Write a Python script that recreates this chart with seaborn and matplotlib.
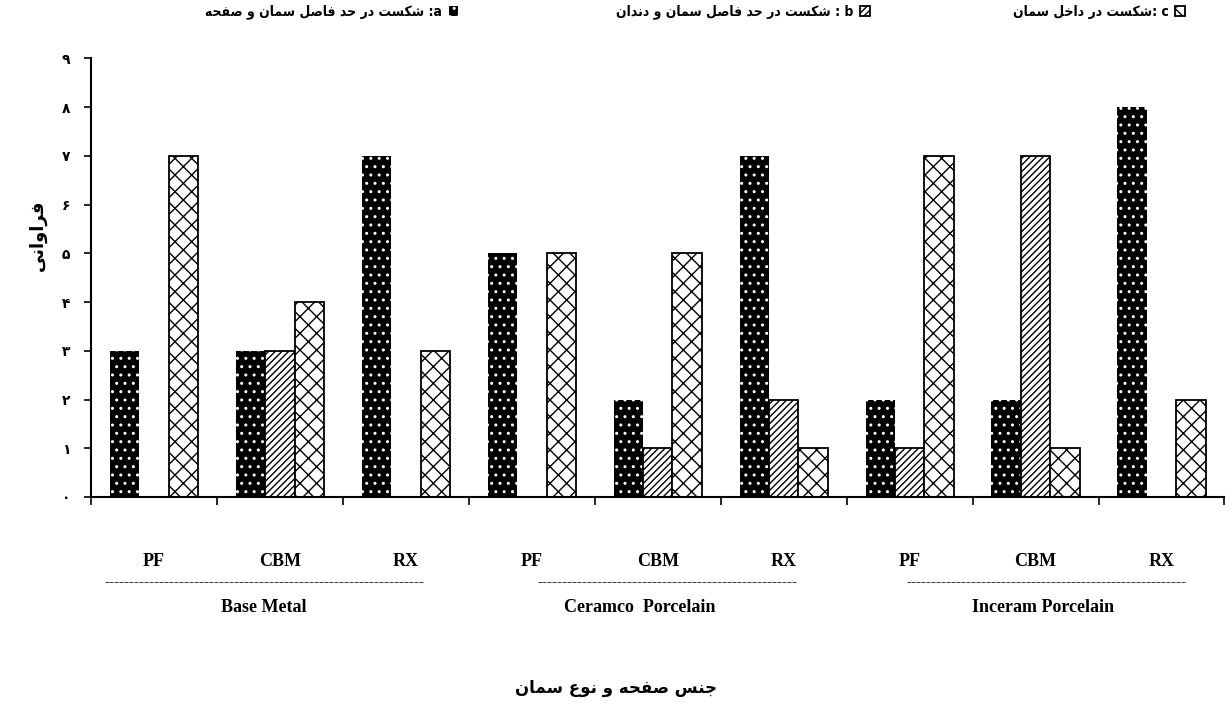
import matplotlib
matplotlib.use("Agg")
import matplotlib.pyplot as plt
import matplotlib.transforms as mtransforms
from matplotlib.patches import Patch
import seaborn as sns
import pandas as pd

# ---- data -------------------------------------------------------------
bases = ["Base Metal", "Ceramco  Porcelain", "Inceram Porcelain"]
cements = ["PF", "CBM", "RX"]
# failure type a: cement / base interface
fail_a = [3, 3, 7, 5, 2, 7, 2, 2, 8]
# failure type b: cement / tooth interface
fail_b = [0, 3, 0, 0, 1, 2, 1, 7, 0]
# failure type c: inside cement
fail_c = [7, 4, 3, 5, 5, 1, 7, 1, 2]
y_ticks = list(range(10))
y_tick_labels = ["۰", "۱", "۲", "۳", "۴", "۵", "۶", "۷", "۸", "۹"]

legend_a = "شکست در حد فاصل سمان و صفحه"
legend_b = "شکست در حد فاصل سمان و دندان"
legend_c = "شکست در داخل سمان"
y_title = "فراوانی"
x_title = "جنس صفحه و نوع سمان"

# group captions (x in category units) and dash-rule lengths
group_x = [0.87, 3.86, 7.06]
dash_x = [0.88, 4.08, 7.09]
dash_n = [64, 52, 56]
legend_right = [0.372, 0.706, 0.962]


# ---- minimal persian shaping (matplotlib has no bidi / shaping) --------
FORMS = {
    "ا": ("\uFE8D", "\uFE8E", None, None),
    "ت": ("\uFE95", "\uFE96", "\uFE97", "\uFE98"),
    "ج": ("\uFE9D", "\uFE9E", "\uFE9F", "\uFEA0"),
    "ح": ("\uFEA1", "\uFEA2", "\uFEA3", "\uFEA4"),
    "خ": ("\uFEA5", "\uFEA6", "\uFEA7", "\uFEA8"),
    "د": ("\uFEA9", "\uFEAA", None, None),
    "ر": ("\uFEAD", "\uFEAE", None, None),
    "س": ("\uFEB1", "\uFEB2", "\uFEB3", "\uFEB4"),
    "ش": ("\uFEB5", "\uFEB6", "\uFEB7", "\uFEB8"),
    "ص": ("\uFEB9", "\uFEBA", "\uFEBB", "\uFEBC"),
    "ع": ("\uFEC9", "\uFECA", "\uFECB", "\uFECC"),
    "ف": ("\uFED1", "\uFED2", "\uFED3", "\uFED4"),
    "ل": ("\uFEDD", "\uFEDE", "\uFEDF", "\uFEE0"),
    "م": ("\uFEE1", "\uFEE2", "\uFEE3", "\uFEE4"),
    "ن": ("\uFEE5", "\uFEE6", "\uFEE7", "\uFEE8"),
    "ه": ("\uFEE9", "\uFEEA", "\uFEEB", "\uFEEC"),
    "و": ("\uFEED", "\uFEEE", None, None),
    "ک": ("\uFB8E", "\uFB8F", "\uFB90", "\uFB91"),
    "ی": ("\uFBFC", "\uFBFD", "\uFBFE", "\uFBFF"),
}
RIGHT_ONLY = set("ادرو")


def fa(text):
    out = []
    for i, ch in enumerate(text):
        if ch not in FORMS:
            out.append(ch)
            continue
        prev = text[i - 1] if i > 0 else None
        nxt = text[i + 1] if i + 1 < len(text) else None
        jp = prev in FORMS and prev not in RIGHT_ONLY
        jn = nxt in FORMS and ch not in RIGHT_ONLY
        iso, fin, ini, med = FORMS[ch]
        if jp and jn:
            out.append(med)
        elif jp:
            out.append(fin)
        elif jn:
            out.append(ini)
        else:
            out.append(iso)
    return "".join(reversed(out))


# ---- long table for seaborn --------------------------------------------
cats = [f"{b}|{c}" for b in bases for c in cements]
rows = []
for i, cat in enumerate(cats):
    rows.append((cat, "a", fail_a[i]))
    rows.append((cat, "b", fail_b[i]))
    rows.append((cat, "c", fail_c[i]))
df = pd.DataFrame(rows, columns=["cat", "type", "count"])

sns.set_style("white")
plt.rcParams["font.family"] = ["DejaVu Sans", "Liberation Sans"]
plt.rcParams["hatch.linewidth"] = 1.0
plt.rcParams["text.color"] = "black"
plt.rcParams["xtick.color"] = "black"
plt.rcParams["ytick.color"] = "black"

fig = plt.figure(figsize=(12.32, 7.11), dpi=100)
ax = fig.add_axes([0.0739, 0.301, 0.920, 0.617])

sns.barplot(data=df, x="cat", y="count", hue="type", order=cats,
            hue_order=["a", "b", "c"], width=0.7, gap=0, ax=ax,
            palette=["black", "white", "white"], legend=False,
            edgecolor="black", linewidth=1.3)

styles = {
    "a": dict(facecolor="black", edgecolor="white", hatch="..", lw=0),
    "b": dict(facecolor="white", edgecolor="black", hatch="/////", lw=1.3),
    "c": dict(facecolor="white", edgecolor="black", hatch="xx", lw=1.3),
}
for cont, key in zip(ax.containers, ["a", "b", "c"]):
    st = styles[key]
    for p in cont:
        p.set_facecolor(st["facecolor"])
        p.set_edgecolor(st["edgecolor"])
        p.set_hatch(st["hatch"])
        p.set_linewidth(st["lw"])
        if p.get_height() == 0:
            p.set_visible(False)

ax.set_xlim(-0.5, 8.5)
ax.set_ylim(0, 9)
ax.set_xlabel("")
ax.set_ylabel("")

for s in ["top", "right"]:
    ax.spines[s].set_visible(False)
for s in ["left", "bottom"]:
    ax.spines[s].set_linewidth(1.5)
    ax.spines[s].set_color("black")

ax.set_yticks(y_ticks)
ax.set_yticklabels(y_tick_labels, fontsize=10, fontweight="bold")
ax.tick_params(axis="y", direction="out", length=5, width=1.2, pad=10,
               left=True, colors="black")

ax.set_xticks(range(len(cats)))
ax.set_xticklabels(cements * len(bases), fontsize=13, fontweight="bold",
                   family="Liberation Serif")
ax.tick_params(axis="x", which="major", length=0, pad=40, colors="black")
ax.set_xticks([i - 0.5 for i in range(len(cats) + 1)], minor=True)
ax.tick_params(axis="x", which="minor", direction="out", length=6,
               width=1.2, bottom=True, colors="black")

trans = mtransforms.blended_transform_factory(ax.transData, ax.transAxes)
for g, name in enumerate(bases):
    ax.text(dash_x[g], -0.195, "-" * dash_n[g], transform=trans, ha="center",
            va="center", fontsize=11, fontweight="bold", family="Liberation Serif",
            color="black")
    ax.text(group_x[g], -0.253, name, transform=trans, ha="center", va="center",
            fontsize=13, fontweight="bold", family="Liberation Serif",
            color="black")

fig.text(38 / 1232, 1 - 235 / 711, fa(y_title), rotation=90, ha="center",
         va="center", fontsize=13, fontweight="bold", color="black")
fig.text(0.5, 1 - 688 / 711, fa(x_title), ha="center", va="center",
         fontsize=12, fontweight="bold", color="black")

labels = [fa(legend_a) + " :a", fa(legend_b) + " : b", fa(legend_c) + ": c"]
for k, lab, xr in zip(["a", "b", "c"], labels, legend_right):
    st = styles[k]
    h = Patch(facecolor=st["facecolor"],
              edgecolor=st["edgecolor"] if k == "a" else "black",
              hatch=st["hatch"], lw=st["lw"])
    leg = fig.legend([h], [lab], loc="center right", bbox_to_anchor=(xr, 0.983),
                     frameon=False, markerfirst=False, handlelength=0.7,
                     handleheight=0.7, handletextpad=0.5, borderpad=0,
                     borderaxespad=0,
                     prop=dict(size=10, weight="bold", stretch="condensed"))
    for t in leg.get_texts():
        t.set_color("black")

fig.savefig("out.png", dpi=100)
